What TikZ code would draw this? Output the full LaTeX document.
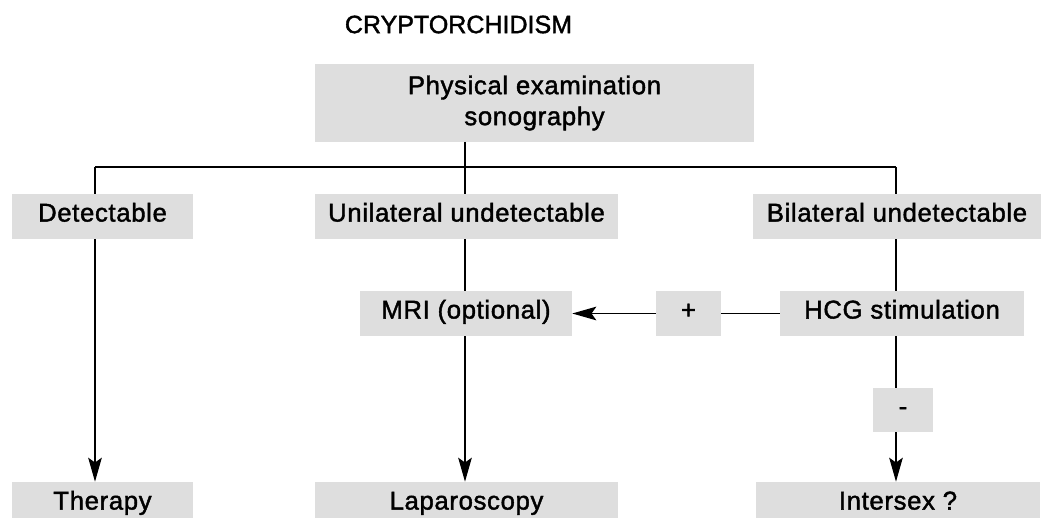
\documentclass[tikz,border=0pt]{standalone}
\usepackage{fontspec}
\setmainfont{Liberation Sans}[FakeBold=1.6]
\newfontfamily\boxfont{Liberation Sans}[LetterSpace=2.5,FakeBold=1.6]
\usetikzlibrary{arrows.meta}
\definecolor{boxgray}{RGB}{222,222,222}

\begin{document}
\begin{tikzpicture}[x=0.025cm,y=-0.025cm,
                box/.style = {fill=boxgray,inner sep=0pt,minimum height=1.125cm,
                              font=\boxfont\fontsize{18.3pt}{22pt}\selectfont,
                              text height=0.9em,text depth=0.18em},
                arrow/.style = {line width=0.9pt,-{Stealth[length=0.6cm,width=0.34cm,inset=0.12cm]}},
                link/.style = {line width=0.9pt}]
                \useasboundingbox (0,0) rectangle (1042,518);
                \clip (0,0) rectangle (1042,518);

                \node[font=\fontsize{17.8pt}{22pt}\selectfont,inner sep=0pt]
                    (title) at (458.5,24.5) {CRYPTORCHIDISM};
                \node[box,minimum width=10.975cm,minimum height=1.925cm,
                      align=center,text height=,text depth=]
                    (exam) at (534.5,103) {Physical examination\\sonography};

                \node[box,minimum width=4.525cm] (det) at (102.5,216.5) {Detectable};
                \node[box,minimum width=7.575cm] (uni) at (466.5,216.5) {Unilateral undetectable};
                \node[box,minimum width=7.2cm]   (bil) at (897,216.5)   {Bilateral undetectable};

                \node[box,minimum width=5.3cm]   (mri)  at (466,313.5)   {MRI (optional)};
                \node[box,minimum width=1.625cm] (plus) at (688.5,313.5) {+};
                \node[box,minimum width=6.1cm]   (hcg)  at (902,313.5)   {HCG stimulation};
                \node[box,minimum width=1.5cm,minimum height=1.1cm]
                    (minus) at (903,410) {-};

                \node[box,minimum width=4.525cm] (ther)  at (102.5,504.5) {Therapy};
                \node[box,minimum width=7.575cm] (lap)   at (466.5,504.5) {Laparoscopy};
                \node[box,minimum width=7.1cm]   (inter) at (898,504.5)   {Intersex ?};

                \coordinate (jl) at (95,167);
                \coordinate (jm) at (465,167);
                \coordinate (jr) at (896,167);

                \draw[link] (exam.south -| jm) -- (jm);
                \draw[link] (jl) -- (jr);
                \draw[link] (jl) -- (jl |- det.north);
                \draw[link] (jm) -- (jm |- uni.north);
                \draw[link] (jr) -- (jr |- bil.north);

                \draw[arrow] (jl |- det.south) -- (jl |- ther.north);
                \draw[link] (jm |- uni.south) -- (jm |- mri.north);
                \draw[arrow] (jm |- mri.south) -- (jm |- lap.north);
                \draw[link] (jr |- bil.south) -- (jr |- hcg.north);
                \draw[link] (jr |- hcg.south) -- (jr |- minus.north);
                \draw[arrow] (jr |- minus.south) -- (jr |- inter.north);

                \draw[link] (hcg.west) -- (plus.east);
                \draw[arrow] (plus.west) -- (mri.east);
            \end{tikzpicture}
\end{document}
